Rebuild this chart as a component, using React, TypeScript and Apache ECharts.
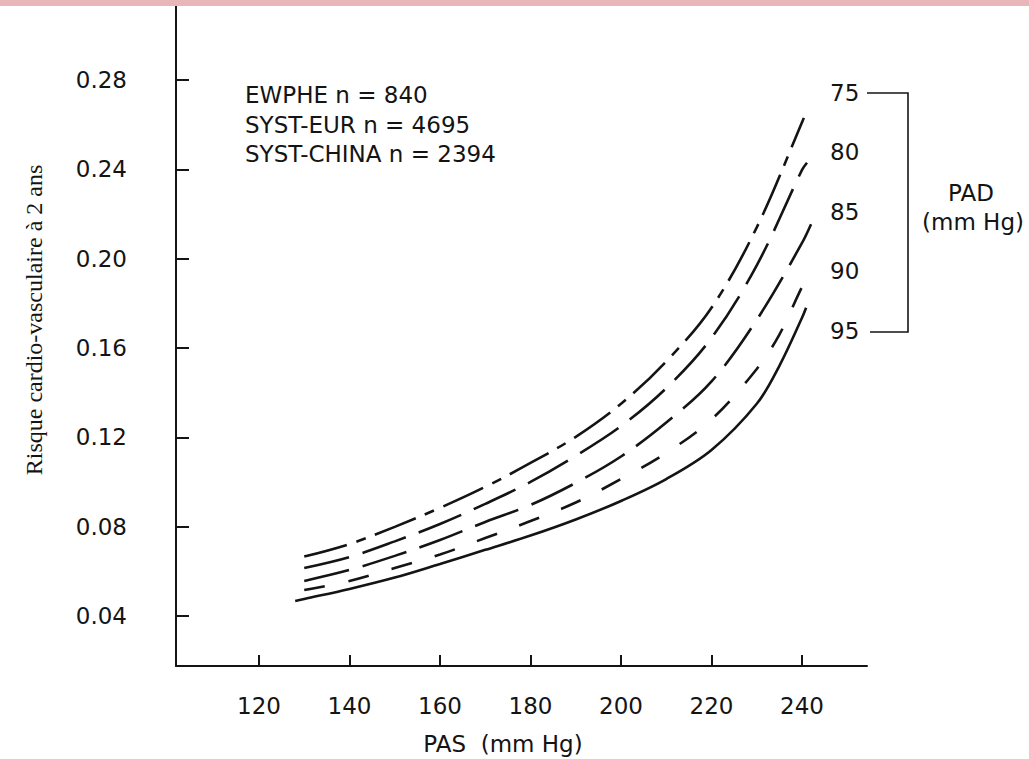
import React, { useEffect, useRef } from "react";
import * as echarts from "echarts";

// PAS (mm Hg) tick labels and risk tick labels
const pasTicks = [120, 140, 160, 180, 200, 220, 240];
const riskTicks = [0.04, 0.08, 0.12, 0.16, 0.2, 0.24, 0.28];

// Curves: [PAS, risk] for each PAD level
const pad75 = [
  [130, 0.0666], [140, 0.0722], [150, 0.0799], [160, 0.0884], [170, 0.0978],
  [180, 0.1085], [190, 0.1202], [200, 0.135], [210, 0.154], [220, 0.178],
  [230, 0.214], [240, 0.261], [240.4, 0.263],
];
const pad80 = [
  [130, 0.0615], [140, 0.0664], [150, 0.0734], [160, 0.0812], [170, 0.0902],
  [180, 0.1], [190, 0.1117], [200, 0.125], [210, 0.142], [220, 0.1645],
  [230, 0.197], [240, 0.2397], [241.1, 0.2429],
];
const pad85 = [
  [130, 0.0557], [140, 0.0606], [150, 0.0669], [160, 0.074], [170, 0.0821],
  [180, 0.0897], [190, 0.0996], [200, 0.1114], [210, 0.1266], [220, 0.145],
  [230, 0.1726], [240, 0.207], [242.6, 0.2182],
];
const pad90 = [
  [130, 0.0516], [140, 0.0557], [150, 0.0615], [160, 0.0675], [170, 0.0749],
  [180, 0.0825], [190, 0.0908], [200, 0.1013], [210, 0.113], [220, 0.128],
  [230, 0.1506], [235, 0.166], [240, 0.1873], [242.4, 0.1958],
];
const pad95 = [
  [128, 0.0467], [130, 0.0476], [140, 0.0521], [150, 0.0572], [160, 0.0633],
  [170, 0.0696], [180, 0.076], [190, 0.0832], [200, 0.0915], [210, 0.1013],
  [220, 0.1143], [230, 0.135], [235, 0.152], [240, 0.1735], [240.9, 0.178],
];

const padLabels = ["75", "80", "85", "90", "95"];
const legendLines = ["EWPHE n = 840", "SYST-EUR n = 4695", "SYST-CHINA n = 2394"];

const INK = "#141414";
const SANS = '"DejaVu Sans", sans-serif';
const SERIF = '"Liberation Serif", "DejaVu Serif", serif';

export default function App() {
  const ref = useRef<HTMLDivElement>(null);

  useEffect(() => {
    if (!ref.current) return;
    const chart = echarts.init(ref.current, null, { renderer: "svg" });

    const curves = [
      { name: "75", data: pad75, dash: [44, 10, 10, 10] },
      { name: "80", data: pad80, dash: [46, 14] },
      { name: "85", data: pad85, dash: [46, 14] },
      { name: "90", data: pad90, dash: [21, 24] },
      { name: "95", data: pad95, dash: "solid" },
    ];

    const padY = [93, 152, 212, 271, 331];

    const graphic: any[] = [
      {
        type: "rect",
        shape: { x: 0, y: 0, width: 1029, height: 6 },
        style: { fill: "#e8b5b8" },
        z: 100,
      },
      ...legendLines.map((t, i) => ({
        type: "text",
        x: 245,
        y: [95, 125, 154][i],
        style: {
          text: t,
          font: `23px ${SANS}`,
          fill: INK,
          textAlign: "left",
          textVerticalAlign: "middle",
        },
      })),
      ...padLabels.map((t, i) => ({
        type: "text",
        x: 830,
        y: padY[i],
        style: {
          text: t,
          font: `23px ${SANS}`,
          fill: INK,
          textAlign: "left",
          textVerticalAlign: "middle",
        },
      })),
      {
        type: "polyline",
        shape: { points: [[867, 93], [908, 93], [908, 332], [870, 332]] },
        style: { stroke: INK, lineWidth: 1.6, fill: null },
      },
      {
        type: "text",
        x: 971,
        y: 193,
        style: { text: "PAD", font: `23px ${SANS}`, fill: INK, textAlign: "center", textVerticalAlign: "middle" },
      },
      {
        type: "text",
        x: 973,
        y: 222,
        style: { text: "(mm Hg)", font: `23px ${SANS}`, fill: INK, textAlign: "center", textVerticalAlign: "middle" },
      },
      {
        type: "text",
        x: 503,
        y: 744,
        style: { text: "PAS  (mm Hg)", font: `23px ${SANS}`, fill: INK, textAlign: "center", textVerticalAlign: "middle" },
      },
      {
        type: "text",
        x: 34,
        y: 320,
        rotation: Math.PI / 2,
        style: {
          text: "Risque cardio-vasculaire à 2 ans",
          font: `24px ${SERIF}`,
          fill: INK,
          textAlign: "center",
          textVerticalAlign: "middle",
        },
      },
    ];

    chart.setOption({
      animation: false,
      backgroundColor: "#ffffff",
      grid: { left: 176, right: 162, top: 6, bottom: 93, containLabel: false, outerBoundsMode: "none" },
      xAxis: {
        type: "value",
        min: 101.66,
        max: 254.36,
        axisLine: { show: true, onZero: false, lineStyle: { color: INK, width: 2 } },
        axisTick: { show: true, inside: true, length: 11, customValues: pasTicks, lineStyle: { color: INK, width: 2 } },
        axisLabel: {
          customValues: pasTicks,
          margin: 28,
          color: INK,
          fontFamily: SANS,
          fontSize: 23,
        },
        splitLine: { show: false },
      },
      yAxis: {
        type: "value",
        min: 0.0176,
        max: 0.3131,
        axisLine: { show: true, onZero: false, lineStyle: { color: INK, width: 2 } },
        axisTick: { show: true, inside: true, length: 13, customValues: riskTicks, lineStyle: { color: INK, width: 2 } },
        axisLabel: {
          customValues: riskTicks,
          margin: 49,
          color: INK,
          fontFamily: SANS,
          fontSize: 23,
          formatter: (v: number) => v.toFixed(2),
        },
        splitLine: { show: false },
      },
      series: curves.map((c) => ({
        type: "line",
        name: c.name,
        data: c.data,
        smooth: 0.35,
        showSymbol: false,
        symbol: "none",
        lineStyle: { color: INK, width: 2.6, type: c.dash, cap: "butt" },
      })),
      graphic,
    });

    return () => chart.dispose();
  }, []);

  return (
    <div
      ref={ref}
      style={{ position: "fixed", left: 0, top: 0, width: 1029, height: 759, background: "#fff" }}
    />
  );
}
